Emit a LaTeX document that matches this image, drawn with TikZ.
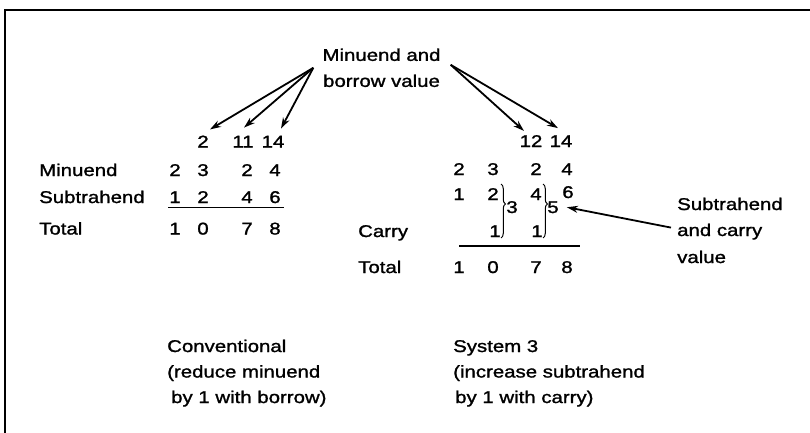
\documentclass[tikz,border=0pt]{standalone}
\usepackage{fontspec}
\setmainfont[FakeStretch=1.2,FakeBold=1.4]{Liberation Sans}
\usetikzlibrary{arrows.meta,decorations.pathreplacing}
\begin{document}
\begin{tikzpicture}[x=1pt,y=-1pt,
  txt/.style={font=\fontsize{17pt}{26pt}\selectfont, inner sep=2pt},
  lbl/.style={txt, anchor=base west},
  dg/.style={txt, anchor=base, inner sep=1pt},
  arr/.style={line width=1.8pt, -{Stealth[length=11pt,width=7pt]}},
  rulel/.style={line width=1.1pt},
  framel/.style={line width=1.6pt},
  brc/.style={line width=1pt, decorate, decoration={brace, amplitude=4.5pt, aspect=0.37}}]
\useasboundingbox (0,0) rectangle (810,433);
\draw[framel] (5,433) -- (5,10) -- (810,10);

% callout
\node[txt, align=center, inner sep=6pt] (mb) at (381.5,67.8) {Minuend and\\borrow value};

% left (conventional)
\node[lbl] (lmin) at (37,176) {Minuend};
\node[lbl] (lsub) at (37,203) {Subtrahend};
\node[lbl] (ltot) at (37,234.5) {Total};

\node[dg] (u2)  at (203,147.5) {2};
\node[dg] (u11) at (243,147.5) {11};
\node[dg] (u14) at (273,147.5) {14};

\node[dg] (m1) at (175,176) {2};
\node[dg] (m2) at (203,176) {3};
\node[dg] (m3) at (247,176) {2};
\node[dg] (m4) at (275,176) {4};

\node[dg] (s1) at (175,203) {1};
\node[dg] (s2) at (203,203) {2};
\node[dg] (s3) at (247,203) {4};
\node[dg] (s4) at (275,203) {6};

\draw[rulel] (168,207.5) -- (284,207.5);

\node[dg] (t1) at (175,234.5) {1};
\node[dg] (t2) at (203,234.5) {0};
\node[dg] (t3) at (247,234.5) {7};
\node[dg] (t4) at (275,234.5) {8};

% right (System 3)
\node[dg] (r12) at (531,147) {12};
\node[dg] (r14) at (561,147) {14};

\node[dg] (rm1) at (459,175) {2};
\node[dg] (rm2) at (493,175) {3};
\node[dg] (rm3) at (536,175) {2};
\node[dg] (rm4) at (567,175) {4};

\node[dg] (rs1) at (459,200) {1};
\node[dg] (rs2) at (493,200) {2};
\node[dg] (rs3) at (536,200) {4};
\node[dg] (rs4) at (568,198) {6};

\node[dg] (r3) at (512,213) {3};
\node[dg] (r5) at (553,213) {5};

\node[lbl] (lcar) at (356,237) {Carry};
\node[dg] (c1) at (495,237) {1};
\node[dg] (c2) at (537,237) {1};

\draw[brc] (501,184) -- (501,238);
\draw[brc] (543,184) -- (543,238);

\draw[rulel] (459,246) -- (580,246);

\node[lbl] (rtot) at (356,273) {Total};
\node[dg] (rt1) at (459,273) {1};
\node[dg] (rt2) at (493,273) {0};
\node[dg] (rt3) at (536,273) {7};
\node[dg] (rt4) at (567,273) {8};

% subtrahend and carry callout
\node[lbl] (sc1) at (675,210) {Subtrahend};
\node[lbl] (sc2) at (675,236) {and carry};
\node[lbl] (sc3) at (675,263) {value};

% captions
\node[lbl] (cv1) at (165,352) {Conventional};
\node[lbl] (cv2) at (165,377.5) {(reduce minuend};
\node[lbl] (cv3) at (169,403) {by 1 with borrow)};
\node[lbl] (sy1) at (451,352) {System 3};
\node[lbl] (sy2) at (451,377.5) {(increase subtrahend};
\node[lbl] (sy3) at (453,403) {by 1 with carry)};

% arrows
\draw[arr] ([xshift=-3pt]mb.west) -- ([xshift=7pt,yshift=5pt]u2.north);
\draw[arr] ([xshift=-3pt]mb.west) -- ([xshift=1pt,yshift=7pt]u11.north);
\draw[arr] ([xshift=-3pt]mb.west) -- ([xshift=8pt,yshift=6pt]u14.north);
\draw[arr] ([xshift=4pt,yshift=3pt]mb.east) -- ([xshift=-7pt,yshift=3pt]r12.north);
\draw[arr] ([xshift=4pt,yshift=3pt]mb.east) -- ([xshift=-3pt,yshift=6pt]r14.north);
\draw[arr] ([xshift=-4pt,yshift=4pt]sc2.west) -- ([xshift=7pt]r5.east);
\end{tikzpicture}
\end{document}
